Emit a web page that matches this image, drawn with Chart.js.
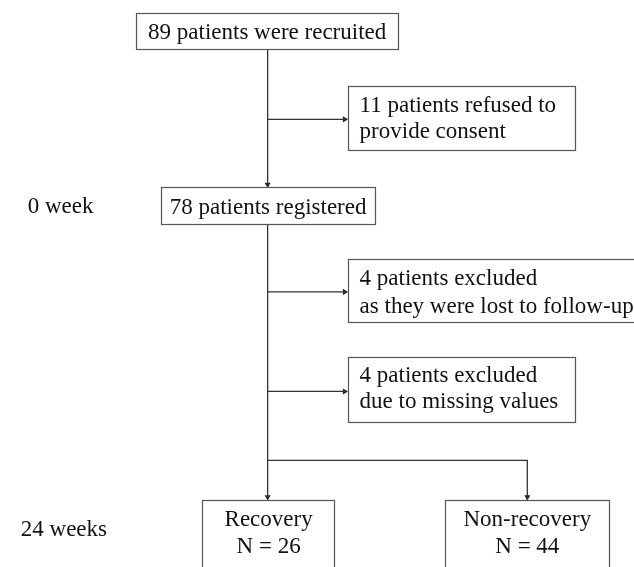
<!DOCTYPE html>
<html>
<head>
<meta charset="utf-8">
<script src="https://cdn.jsdelivr.net/npm/chart.js@4.4.1/dist/chart.umd.min.js"></script>
<style>
  html, body { margin: 0; padding: 0; background: #fff; }
  #wrap { width: 634px; height: 567px; position: relative; }
</style>
</head>
<body>
<div id="wrap"><canvas id="flow"></canvas></div>
<script>
// patient counts shown in the boxes
const boxCounts = [89, 11, 78, 4, 4, 26, 44];
const boxLines = [
  ["89 patients were recruited"],
  ["11 patients refused to", "provide consent"],
  ["78 patients registered"],
  ["4 patients excluded", "as they were lost to follow-up"],
  ["4 patients excluded", "due to missing values"],
  ["Recovery", "N = 26"],
  ["Non-recovery", "N = 44"]
];
const timeLabels = ["0 week", "24 weeks"];

// layout in diagram units (axis 0..634 / 0..567)
const boxLeft   = [134, 348, 159, 348, 348, 201, 447];
const boxRight  = [399, 578, 376, 660, 578, 335, 613];
const boxTop    = [9,   83,  186, 259, 358, 503, 503];
const boxBottom = [46,  148, 224, 323, 424, 600, 600];
const boxAlign  = ["center", "left", "center", "left", "left", "center", "center"];
const boxBase   = [[35], [110, 136], [213], [285, 313], [383, 410], [529, 557], [529, 557]];
const timeX = [24, 17];
const timeY = [212, 540];

// connectors
const connectors = [
  [[267, 46], [267, 186]],
  [[267, 117], [348, 117]],
  [[267, 224], [267, 503]],
  [[267, 292], [348, 292]],
  [[267, 393], [348, 393]],
  [[267, 463], [530, 463], [530, 503]]
];
const arrowPts = [[267, 183], [345, 117], [345, 292], [345, 393], [267, 500], [530, 500]];
const arrowRot = [180, 90, 90, 90, 180, 180];

const FONT = '23px "Liberation Serif", "Times New Roman", serif';

const boxPlugin = {
  id: "boxes",
  afterDatasetsDraw(chart) {
    const ctx = chart.ctx;
    const sx = chart.scales.x, sy = chart.scales.y;
    ctx.save();
    ctx.font = FONT;
    ctx.textBaseline = "alphabetic";
    for (let i = 0; i < boxCounts.length; i++) {
      const x0 = sx.getPixelForValue(boxLeft[i]);
      const x1 = sx.getPixelForValue(boxRight[i]);
      const y0 = sy.getPixelForValue(boxTop[i]);
      const y1 = sy.getPixelForValue(boxBottom[i]);
      ctx.fillStyle = "#fff";
      ctx.fillRect(x0, y0, x1 - x0, y1 - y0);
      ctx.strokeStyle = "#555";
      ctx.lineWidth = 1.2;
      ctx.strokeRect(Math.round(x0) + 0.5, Math.round(y0) + 0.5, Math.round(x1 - x0), Math.round(y1 - y0));
      ctx.fillStyle = "#111";
      ctx.textAlign = boxAlign[i];
      const tx = boxAlign[i] === "left" ? x0 + 12 : (x0 + Math.min(x1, 634)) / 2;
      boxLines[i].forEach(function (line, j) {
        ctx.fillText(line, tx, sy.getPixelForValue(boxBase[i][j]));
      });
    }
    ctx.textAlign = "left";
    timeLabels.forEach(function (t, i) {
      ctx.fillText(t, sx.getPixelForValue(timeX[i]), sy.getPixelForValue(timeY[i]));
    });
    ctx.restore();
  }
};

const datasets = connectors.map(function (pts) {
  return {
    type: "line",
    data: pts.map(function (p) { return { x: p[0], y: p[1] }; }),
    borderColor: "#333",
    borderWidth: 1.3,
    pointRadius: 0,
    fill: false,
    tension: 0
  };
});
datasets.push({
  type: "scatter",
  data: arrowPts.map(function (p) { return { x: p[0], y: p[1] }; }),
  pointStyle: "triangle",
  pointRadius: 3.5,
  rotation: arrowRot,
  backgroundColor: "#222",
  borderColor: "#222",
  borderWidth: 0
});

new Chart(document.getElementById("flow"), {
  type: "scatter",
  data: { datasets: datasets },
  options: {
    responsive: true,
    maintainAspectRatio: false,
    animation: false,
    layout: { padding: 0 },
    plugins: { legend: { display: false }, tooltip: { enabled: false } },
    scales: {
      x: { type: "linear", min: 0, max: 634, display: false },
      y: { type: "linear", min: 0, max: 567, reverse: true, display: false }
    }
  },
  plugins: [boxPlugin]
});
</script>
</body>
</html>
